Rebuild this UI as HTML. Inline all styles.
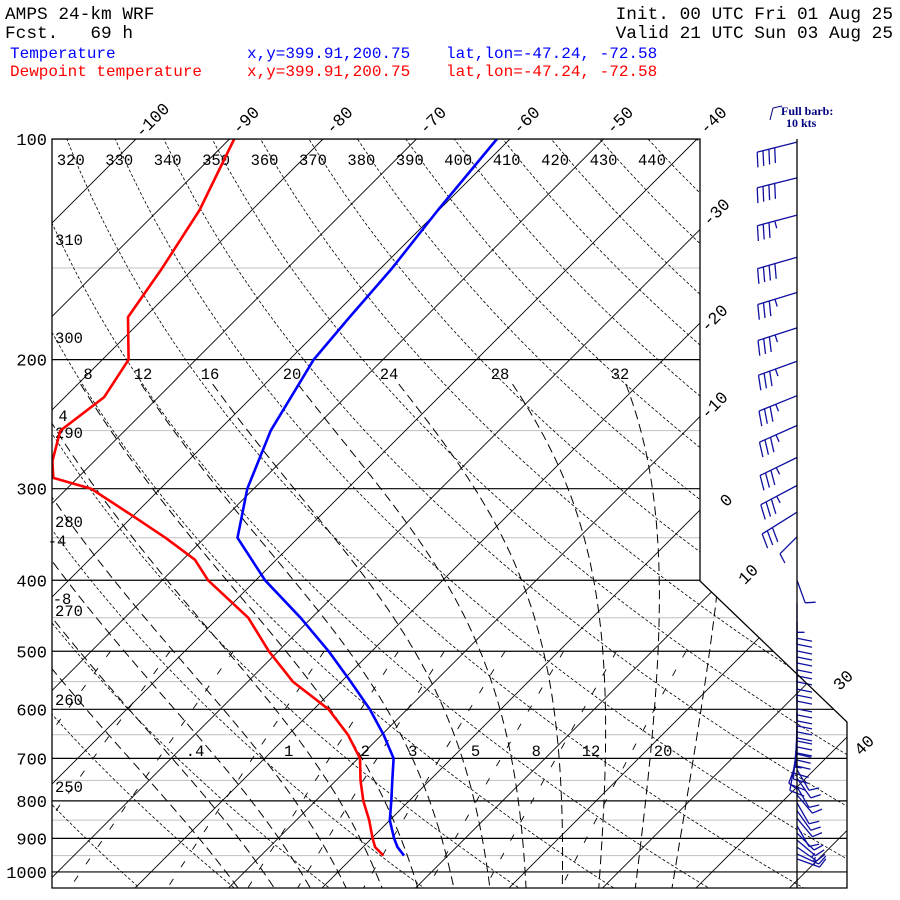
<!DOCTYPE html>
<html><head><meta charset="utf-8"><style>
html,body{margin:0;padding:0;background:#fff;width:900px;height:900px;overflow:hidden}
svg{display:block}
.t{font-family:"Liberation Mono",monospace}
</style></head><body>
<svg id="chart" width="900" height="900" viewBox="0 0 900 900" xmlns="http://www.w3.org/2000/svg">
<g class="t">
<text x="5" y="19" font-size="17.8">AMPS 24-km WRF</text>
<text x="5" y="38" font-size="17.8" xml:space="preserve">Fcst.   69 h</text>
<text x="893" y="19" font-size="17.8" text-anchor="end">Init. 00 UTC Fri 01 Aug 25</text>
<text x="893" y="38" font-size="17.8" text-anchor="end">Valid 21 UTC Sun 03 Aug 25</text>
<text x="10" y="58" font-size="16" fill="#0000ff">Temperature</text>
<text x="247" y="58" font-size="16" fill="#0000ff">x,y=399.91,200.75</text>
<text x="446" y="58" font-size="16" fill="#0000ff">lat,lon=-47.24, -72.58</text>
<text x="10" y="76" font-size="16" fill="#ff0000">Dewpoint temperature</text>
<text x="247" y="76" font-size="16" fill="#ff0000">x,y=399.91,200.75</text>
<text x="446" y="76" font-size="16" fill="#ff0000">lat,lon=-47.24, -72.58</text>
</g>
<g fill="#000080" font-family="Liberation Serif,serif" font-size="12" font-weight="bold">
<path d="M770 120 L773 108 L782 106" stroke="#000080" fill="none"/>
<text x="781" y="115">Full barb:</text>
<text x="786" y="127">10 kts</text>
</g>
<defs><clipPath id="plotclip"><polygon points="52,139 700,139 700,581 847,722 847,888 52,888"/></clipPath></defs>
<g id="grid" clip-path="url(#plotclip)"></g>
<g id="labels" class="t" font-size="15.5"></g>
<g id="curves" clip-path="url(#plotclip)"></g>
<g id="barbs"></g>
<polygon points="52,139 700,139 700,581 847,722 847,888 52,888" fill="none" stroke="#000" stroke-width="1.3"/>
<line x1="797" y1="139" x2="797" y2="888" stroke="#000" stroke-width="1.3"/>
</svg>
<script>
// ---- data ----
const tempP = [100,125,150,175,200,250,300,350,400,450,500,550,600,650,700,750,800,850,900,925,950];
const tempT = [-61.4,-60.1,-58.8,-58.1,-57.4,-54.4,-50.7,-46.5,-39.0,-31.2,-24.6,-19.0,-14.0,-9.8,-6.2,-4.0,-1.9,0.0,2.4,3.7,5.3];
const dewP = [100,125,150,175,200,225,250,275,290,300,325,350,375,400,450,500,550,600,650,700,750,800,850,900,925,950];
const dewT = [-89.5,-85.6,-83.4,-81.8,-77.2,-75.8,-76.9,-74.5,-72.6,-67.4,-60.5,-54.2,-48.7,-45.1,-36.8,-31.0,-25.2,-18.4,-13.6,-9.8,-7.4,-4.9,-2.2,0.1,1.3,3.1];
const barbP = [101,113,127,145,162,181,201,224,246,272,297,323,349,400,430,456,484,514,547,577,605,630,657,682,705,725,745,765,785,805,825,845,865,885,905,925,945,960];
const barbDir = [256,256,255,254,253,252,250,248,246,244,242,238,225,160,180,180,180,180,180,180,180,182,185,190,200,150,145,150,140,150,145,140,150,135,130,125,115,110];
const barbSpd = [40,40,35,40,35,35,35,35,35,35,35,30,10,10,25,30,30,30,30,30,30,30,25,20,10,10,10,10,10,10,10,10,10,10,10,15,15,15];
const pressureTicks = [100,200,300,400,500,600,700,800,900,1000];
const minorTicks = [150,250,350,450,550,650,750,850,950];
const isoTopLabels = [-100,-90,-80,-70,-60,-50,-40];
const isoRightLabels = [-30,-20,-10,0,10,30,40];
const thetaVals = [240,250,260,270,280,290,300,310,320,330,340,350,360,370,380,390,400,410,420,430,440,450];
const thetaTop = [320,330,340,350,360,370,380,390,400,410,420,430,440];
const thetaLeft = [310,300,290,280,270,260,250];
const moistVals = [-12,-8,-4,0,4,8,12,16,20,24,28,32,36];
const moistTop = [8,12,16,20,24,28,32];
const mixVals = [0.1,0.2,0.4,1,2,3,5,8,12,20];
const mixLabels = [".4","1","2","3","5","8","12","20"];

// ---- axes ----
const NS="http://www.w3.org/2000/svg";
function yP(p){return 139+318.3*Math.log(p/100);}
function xT(T,p){return 136+9.35*(T+100)-(yP(p)-139);}
function mk(tag,attrs,parent){const e=document.createElementNS(NS,tag);for(const k in attrs)e.setAttribute(k,attrs[k]);parent.appendChild(e);return e;}
const grid=document.getElementById('grid'),labels=document.getElementById('labels'),curves=document.getElementById('curves'),barbs=document.getElementById('barbs');
function poly(pts){return pts.map(q=>q[0].toFixed(1)+','+q[1].toFixed(1)).join(' ');}

minorTicks.forEach(p=>{const l=mk('line',{x1:52,x2:860,y1:yP(p),y2:yP(p),stroke:'#c0c0c0','stroke-width':1},grid);

});
pressureTicks.forEach(p=>{const l=mk('line',{x1:52,x2:860,y1:yP(p),y2:yP(p),stroke:'#000','stroke-width':1.2},grid);


const t=mk('text',{x:47,y:yP(p)+6,'text-anchor':'end','font-size':17},labels);t.textContent=p;

});

for(let T=-160;T<=50;T+=10){const l=mk('line',{x1:xT(T,100),y1:yP(100),x2:xT(T,1060),y2:yP(1060),stroke:'#000','stroke-width':0.9},grid);

}

thetaVals.forEach(th=>{const pts=[];for(let p=90;p<=1060;p+=10){const T=th*Math.pow(p/1000,0.2857)-273.15;pts.push([xT(T,p),yP(p)]);}
const l=mk('polyline',{points:poly(pts),fill:'none',stroke:'#000','stroke-width':0.8,'stroke-dasharray':'3,2'},grid);

});

function es(Tc){return 6.112*Math.exp(17.67*Tc/(Tc+243.5));}
function dTdp(T,p){const e=es(T-273.15);const rs=0.622*e/(p-e);const Lv=2.5e6,Rd=287,cp=1005;
return (1/p)*(Rd*T+Lv*rs)/(cp+Lv*Lv*rs*0.622/(Rd*T*T));}
moistVals.forEach(tw=>{const up=[];let T=tw+273.15;for(let p=1000;p>=215;p-=2){up.push([xT(T-273.15,p),yP(p)]);T+=dTdp(T,p)*(-2);}
const dn=[];T=tw+273.15;for(let p=1000;p<=1060;p+=2){T+=dTdp(T,p)*2;dn.push([xT(T-273.15,p+2),yP(p+2)]);}
const pts=up.reverse().concat(dn);
const l=mk('polyline',{points:poly(pts),fill:'none',stroke:'#000','stroke-width':1,'stroke-dasharray':'9,5'},grid);

});

mixVals.forEach(w=>{const pts=[];for(let p=500;p<=1060;p+=10){const e=w*p/(622+w);const a=Math.log(e/6.112);const Td=243.5*a/(17.67-a);pts.push([xT(Td,p),yP(p)]);}
const l=mk('polyline',{points:poly(pts),fill:'none',stroke:'#000','stroke-width':0.9,'stroke-dasharray':'7,14'},grid);

});

function rotLabel(txt,x,y,name){const t=mk('text',{x:x,y:y,'text-anchor':'middle','font-size':17,transform:'rotate(-45 '+x+' '+y+')'},labels);t.textContent=txt;

}
isoTopLabels.forEach(T=>{const x=xT(T,100)+20;rotLabel(T,x,124,'isotherm-label-'+T);});
const rightPos=[[720,216],[718,322],[718,409],[730,504],[752,578],[847,684],[868,749]];
isoRightLabels.forEach((T,i)=>{rotLabel(T,rightPos[i][0],rightPos[i][1],'isotherm-label-'+T);});
thetaTop.forEach(th=>{const T=th*Math.pow(0.1,0.2857)-273.15;const t=mk('text',{x:xT(T,100)+4,y:165,'text-anchor':'middle'},labels);t.textContent=th;

});
const leftY=[245,343,438,527,616,705,792];
thetaLeft.forEach((th,i)=>{const t=mk('text',{x:69,y:leftY[i],'text-anchor':'middle'},labels);t.textContent=th;

});
const moistX=[88,143,210,292,389,500,620];
moistTop.forEach((tw,i)=>{const t=mk('text',{x:moistX[i],y:379,'text-anchor':'middle'},labels);t.textContent=tw;

});
[["4",63,421],["-4",57,546],["-8",62,604]].forEach(a=>{const t=mk('text',{x:a[1],y:a[2],'text-anchor':'middle'},labels);t.textContent=a[0];

});
mixLabels.forEach((s,i)=>{const w=parseFloat(s);const e=w*680/(622+w);const a=Math.log(e/6.112);const Td=243.5*a/(17.67-a);
const t=mk('text',{x:xT(Td,680)+30,y:756,'text-anchor':'middle'},labels);t.textContent=s;

});

function curve(P,T,color,name){const pts=P.map((p,i)=>[xT(T[i],p),yP(p)]);
const l=mk('polyline',{points:poly(pts),fill:'none',stroke:color,'stroke-width':2.6,'stroke-linejoin':'round'},curves);

}
curve(tempP,tempT,'#0000ff','temperature-line');
curve(dewP,dewT,'#ff0000','dewpoint-line');

barbP.forEach((p,i)=>{const y=yP(p),x=797;const d=barbDir[i]*Math.PI/180;const sx=Math.sin(d),sy=-Math.cos(d);
const L=barbSpd[i]>=20?41:24;const tx=x+sx*L,ty=y+sy*L;const px=sy,py=-sx;
let path='M'+x+' '+y+' L'+tx.toFixed(1)+' '+ty.toFixed(1);
let spd=barbSpd[i],k=0;const FL=barbSpd[i]>=20?15:10;
while(spd>=10){const bx=tx-sx*k*6,by=ty-sy*k*6;path+=' M'+bx.toFixed(1)+' '+by.toFixed(1)+' l'+(px*FL+sx*3).toFixed(1)+' '+(py*FL+sy*3).toFixed(1);spd-=10;k++;}
if(spd>=5){const bx=tx-sx*k*6,by=ty-sy*k*6;path+=' M'+bx.toFixed(1)+' '+by.toFixed(1)+' l'+(px*FL/2).toFixed(1)+' '+(py*FL/2).toFixed(1);}
const b=mk('path',{d:path,stroke:'#1010a0','stroke-width':1.3,fill:'none'},barbs);

});
</script>
</body></html>
